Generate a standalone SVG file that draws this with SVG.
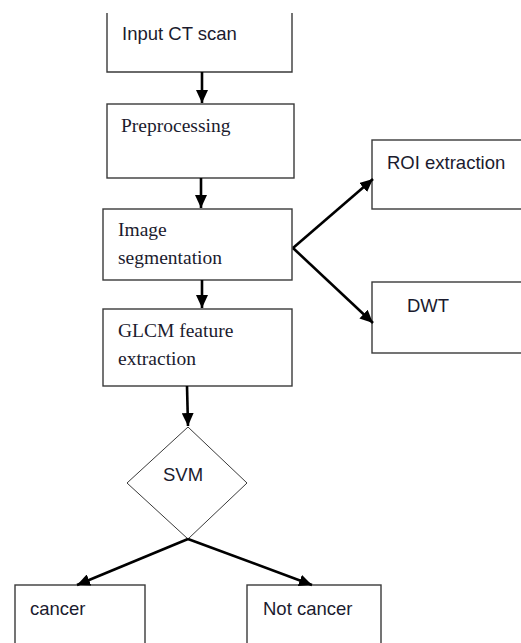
<svg xmlns="http://www.w3.org/2000/svg" width="521" height="643" viewBox="0 0 521 643">
<defs>
<style>
.box{fill:#fff;stroke:#3a3a3a;stroke-width:1.4}
.dia{fill:#fff;stroke:#3a3a3a;stroke-width:1}
.sans{font-family:"Liberation Sans",Arial,sans-serif;font-size:18.5px;fill:#1b1b2e}
.serif{font-family:"Liberation Serif","Times New Roman",serif;font-size:19.5px;fill:#1b1b2e}
.con{fill:none;stroke:#000;stroke-width:2.6;marker-end:url(#ah)}
</style>
<marker id="ah" markerUnits="userSpaceOnUse" markerWidth="14" markerHeight="12" refX="13" refY="6" orient="auto">
<path d="M0,0 L13,6 L0,12 Z" fill="#000"/>
</marker>
</defs>
<g id="n-input">
<path class="box" d="M107,13 V72 H292 V13" fill="none"/>
<text class="sans" x="122" y="40">Input CT scan</text>
</g>
<g id="n-pre">
<rect class="box" x="107" y="104" width="187" height="74"/>
<text class="serif" x="121" y="132">Preprocessing</text>
</g>
<g id="n-seg">
<rect class="box" x="103" y="209" width="189" height="71"/>
<text class="serif" x="118" y="236">Image</text>
<text class="serif" x="118" y="264">segmentation</text>
</g>
<g id="n-glcm">
<rect class="box" x="103" y="309" width="189" height="77"/>
<text class="serif" x="118" y="337">GLCM feature</text>
<text class="serif" x="118" y="365">extraction</text>
</g>
<g id="n-roi">
<rect class="box" x="372" y="140" width="170" height="69"/>
<text class="sans" x="387" y="169">ROI extraction</text>
</g>
<g id="n-dwt">
<rect class="box" x="372" y="282" width="170" height="71"/>
<text class="sans" x="407" y="312">DWT</text>
</g>
<g id="n-svm">
<path class="dia" d="M188,427 L247,483 L188,539 L127,483 Z"/>
<text class="sans" x="163" y="481">SVM</text>
</g>
<g id="n-cancer">
<rect class="box" x="15" y="585" width="130" height="80"/>
<text class="sans" x="30" y="615">cancer</text>
</g>
<g id="n-notcancer">
<rect class="box" x="247" y="585" width="134" height="80"/>
<text class="sans" x="263" y="615">Not cancer</text>
</g>
<g id="connectors">
<path class="con" d="M202,72 L202,103"/>
<path class="con" d="M201,178 L201,208"/>
<path class="con" d="M202,280 L202,308"/>
<path class="con" d="M187,386 L188,426"/>
<path class="con" d="M293,248 L373,179"/>
<path class="con" d="M293,248 L373,323"/>
<path class="con" d="M188,539 L77,585"/>
<path class="con" d="M188,539 L312,585"/>
</g>
</svg>
